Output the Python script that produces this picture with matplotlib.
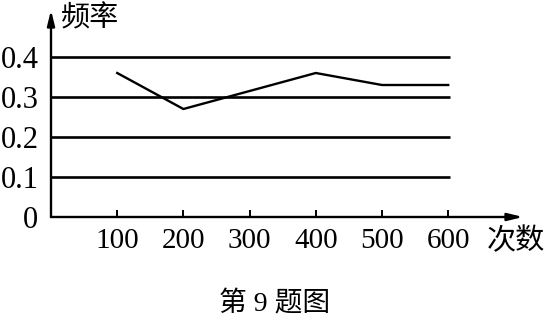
import numpy as np
import matplotlib.pyplot as plt

plt.rcParams['font.family'] = ['Liberation Serif', 'Noto Sans CJK SC', 'DejaVu Sans']

## data
counts = [100, 200, 400, 500, 600]
freqs = [0.36, 0.27, 0.36, 0.33, 0.33]
x_ticks = [100, 200, 300, 400, 500, 600]
y_ticks = [0, 0.1, 0.2, 0.3, 0.4]
y_tick_lbls = ['0', '0.1', '0.2', '0.3', '0.4']

## figure
W, H = 549, 321
fig = plt.figure(figsize=(W / 100, H / 100), dpi=100)
ax = fig.add_axes([51 / W, 1 - 217 / H, (523 - 51) / W, (217 - 10) / H])
ax.set_xlim(0, 713)
ax.set_ylim(0, 0.5175)

# horizontal reference lines
for y in y_ticks[1:]:
    ax.plot([0, 603], [y, y], color='black', lw=1.9, solid_capstyle='butt')

# frequency line
ax.plot(counts, freqs, color='black', lw=1.7)

# axes with arrows
for sp in ax.spines.values():
    sp.set_visible(False)
arrow = dict(arrowstyle='-|>,head_length=0.9,head_width=0.22', color='black',
             lw=1.7, shrinkA=0, shrinkB=0)
ax.annotate('', xy=(713, 0), xytext=(0, 0), arrowprops=arrow, annotation_clip=False)
ax.annotate('', xy=(0, 0.5175), xytext=(0, 0), arrowprops=arrow, annotation_clip=False)

# ticks
ax.set_xticks(x_ticks)
ax.set_xticklabels([str(v) for v in x_ticks])
ax.set_yticks(y_ticks)
ax.set_yticklabels(y_tick_lbls)
ax.tick_params(axis='x', direction='in', length=5, width=1.4, pad=8, labelsize=21)
ax.tick_params(axis='y', length=0, pad=9, labelsize=22)

# axis titles
cjk = ['Liberation Serif', 'Noto Sans CJK SC']
fig.text(61 / W, 1 - 19 / H, '频率', fontsize=21, va='center', ha='left', family=cjk)
fig.text(487 / W, 1 - 241 / H, '次数', fontsize=21, va='center', ha='left', family=cjk)
fig.text(275 / W, 1 - 304 / H, '第 9 题图', fontsize=20, va='center', ha='center',
         family=cjk)

fig.savefig('out.png', dpi=100)
